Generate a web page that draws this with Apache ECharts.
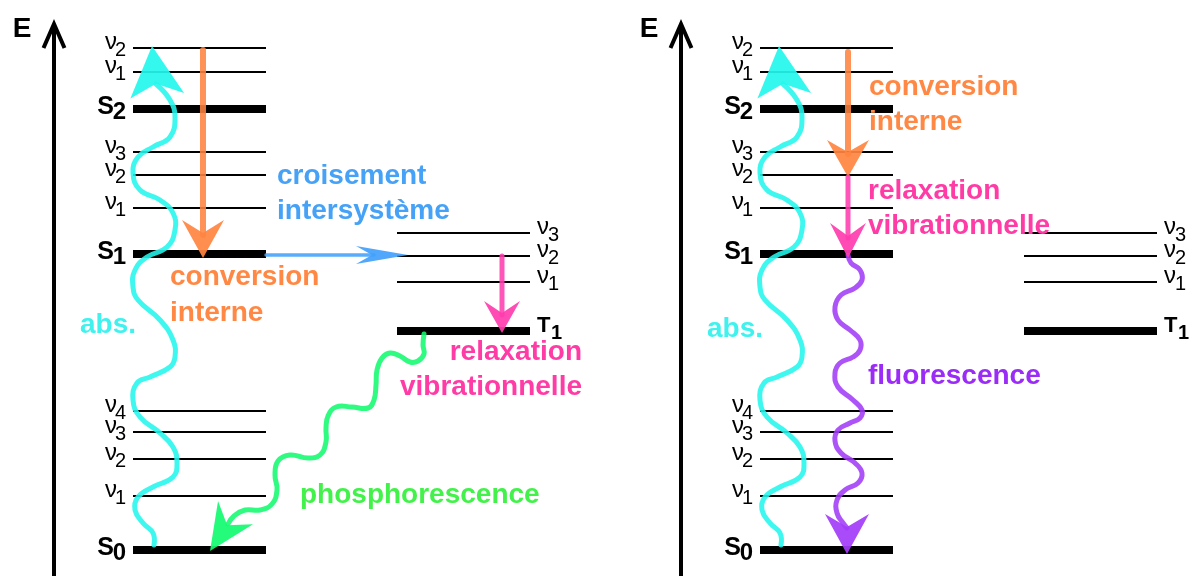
<!DOCTYPE html>
<html><head><meta charset="utf-8">
<script src="https://cdn.jsdelivr.net/npm/echarts@6.0.0/dist/echarts.min.js"></script>
<style>html,body{margin:0;padding:0;background:#fff}#c{width:1192px;height:576px}</style>
</head><body><div id="c"></div>
<script>
// ---------- data (diagram units: x to the right, energy y downward) ----------
const panelShift = [0, 627];
const singletX = [133, 266];
const tripletX = [397, 530];
const singletY = [48, 72, 109, 152, 175, 208, 254, 411, 432, 459, 496, 550];
const singletSym = ['ν','ν','S','ν','ν','ν','S','ν','ν','ν','ν','S'];
const singletSub = ['2','1','2','3','2','1','1','4','3','2','1','0'];
const tripletY = [233, 256, 282, 331];
const tripletSym = ['ν','ν','ν','T'];
const tripletSub = ['3','2','1','1'];
const energyAxisX = 54;
const energyAxisY = [576, 23];

// wavy transitions: waypoints from start to arrow base, then the tip
const absorptionPath = [[154,545],[153,533],[143,523],[135,510],[138,497],[153,487],[173,477],[177,463],[173,447],[160,433],[140,417],[133,400],[137,383],[150,377],[170,367],[175,357],[173,340],[160,320],[138,300],[133,287],[135,270],[147,257],[167,247],[175,230],[173,213],[160,200],[140,190],[133,173],[138,157],[153,147],[170,137],[175,117],[170,100],[156,84]];
const absorptionTip = [152, 46];
const phosphorescencePath = [[424,334],[423,345],[424,354],[418,361],[410,362],[400,356],[390,353],[382,358],[377,370],[376,385],[374,400],[368,408],[352,407],[336,407],[328,416],[326,428],[326,442],[320,455],[308,458],[290,455],[278,461],[275,475],[277,490],[272,504],[260,510],[245,510],[234,516],[228,524]];
const phosphorescenceTip = [210, 551];
const fluorescencePath = [[848,255],[851,263],[860,270],[862,280],[855,288],[841,295],[835,307],[838,320],[850,330],[860,340],[860,350],[853,357],[840,363],[835,373],[838,387],[853,400],[862,410],[860,418],[850,423],[838,430],[835,441],[841,453],[855,463],[862,473],[858,483],[845,490],[837,500],[837,513],[843,523],[847,528]];
const fluorescenceTip = [847, 554];

// straight transitions: [start, tip]
const internalConvLeft = [[203,50],[203,258]];
const intersystemCrossing = [[266,255],[408,255]];
const vibRelaxLeft = [[502,256],[502,333]];
const internalConvRight = [[848,52],[848,177]];
const vibRelaxRight = [[848,177],[848,258]];

// annotation texts
const annoText = ['croisement','intersystème','conversion','interne','abs.','relaxation','vibrationnelle','phosphorescence','conversion','interne','relaxation','vibrationnelle','abs.','fluorescence'];
const annoX = [277,277,170,170,80,582,582,300,869,869,868,868,707,868];
const annoBaseline = [186,221,287,323,335,362,397,505,97,132,201,236,339,386];
const annoKind = ['isc','isc','ic','ic','abs','vr','vr','ph','ic','ic','vr','vr','abs','fl'];

// ---------- styles ----------
const textColor = {isc:'#46a2f6', ic:'#ff8844', abs:'#3ff2ee', vr:'#ff3ca6', ph:'#42f24a', fl:'#9b2cf8'};
const FONT = '"Liberation Sans", Arial, sans-serif';

const arrows = [
  {path: absorptionPath, tip: absorptionTip, color:'#23f7ed', w:5, L:50, H:27, D:38, smooth:true, shift:[0,627]},
  {path: phosphorescencePath, tip: phosphorescenceTip, color:'#12fb70', w:5, L:46, H:21, D:31, smooth:true, shift:[0]},
  {path: fluorescencePath, tip: fluorescenceTip, color:'#a23cf8', w:5, L:40, H:22, D:27, smooth:true, shift:[0]},
  {path: [internalConvLeft[0]], tip: internalConvLeft[1], color:'#ff8440', w:6, L:38, H:21, D:25, shift:[0]},
  {path: [intersystemCrossing[0]], tip: intersystemCrossing[1], color:'#41a0fb', w:3.5, L:52, H:9, D:36, shift:[0]},
  {path: [vibRelaxLeft[0]], tip: vibRelaxLeft[1], color:'#ff3cae', w:5, L:32, H:18, D:20, shift:[0]},
  {path: [internalConvRight[0]], tip: internalConvRight[1], color:'#ff8440', w:6, L:37, H:21, D:25, shift:[0]},
  {path: [vibRelaxRight[0]], tip: vibRelaxRight[1], color:'#ff3cae', w:5, L:35, H:18, D:22, shift:[0]}
];
const arrowItems = [];
arrows.forEach((a, i) => a.shift.forEach(s => arrowItems.push({i, s})));

const levelItems = [];
panelShift.forEach(s => {
  singletY.forEach((y, k) => levelItems.push({x0: singletX[0]+s, x1: singletX[1]+s, y, sym: singletSym[k], sub: singletSub[k], side:'left'}));
  tripletY.forEach((y, k) => levelItems.push({x0: tripletX[0]+s, x1: tripletX[1]+s, y, sym: tripletSym[k], sub: tripletSub[k], side:'right'}));
});

const chart = echarts.init(document.getElementById('c'), null, {renderer:'canvas'});

function renderLevel(params, api) {
  const it = levelItems[params.dataIndex];
  const p0 = api.coord([it.x0, it.y]), p1 = api.coord([it.x1, it.y]);
  const thick = it.sym !== 'ν';
  const children = [{
    type:'line', shape:{x1:p0[0], y1:p0[1], x2:p1[0], y2:p1[1]},
    style:{stroke:'#000', lineWidth: thick ? 8 : 2}
  }];
  let symFont, subFont, symDy, subDy, symW;
  if (it.sym === 'ν') { symFont = '24px ' + FONT; subFont = '20px ' + FONT; symDy = -6; subDy = 2; symW = 9; }
  else if (it.sym === 'S') { symFont = 'bold 25px ' + FONT; subFont = 'bold 24px ' + FONT; symDy = -2; subDy = 3; symW = 12; }
  else { symFont = 'bold 22px ' + FONT; subFont = 'bold 20px ' + FONT; symDy = -5; subDy = 2; symW = 13; }
  if (it.side === 'left') {
    const xr = p0[0] - 7;
    children.push({type:'text', style:{text: it.sub, x: xr, y: p0[1]+subDy, font: subFont, fill:'#000', align:'right', verticalAlign:'middle'}});
    children.push({type:'text', style:{text: it.sym, x: xr - symW, y: p0[1]+symDy, font: symFont, fill:'#000', align:'right', verticalAlign:'middle'}});
  } else {
    const xl = p1[0] + 7;
    children.push({type:'text', style:{text: it.sym, x: xl, y: p1[1]+symDy, font: symFont, fill:'#000', align:'left', verticalAlign:'middle'}});
    children.push({type:'text', style:{text: it.sub, x: xl + (it.sym==='T' ? 14 : 11), y: p1[1]+subDy, font: subFont, fill:'#000', align:'left', verticalAlign:'middle'}});
  }
  return {type:'group', children};
}

function renderArrow(params, api) {
  const item = arrowItems[params.dataIndex];
  const a = arrows[item.i];
  const s = item.s;
  const tip = api.coord([a.tip[0]+s, a.tip[1]]);
  const pts = a.path.map(p => api.coord([p[0]+s, p[1]]));
  const base = pts[pts.length-1];
  let dx = tip[0]-base[0], dy = tip[1]-base[1];
  if (!a.smooth) { dx = tip[0]-pts[0][0]; dy = tip[1]-pts[0][1]; }
  const len = Math.hypot(dx, dy); dx/=len; dy/=len;
  const px = -dy, py = dx;
  const notch = [tip[0]-dx*a.D, tip[1]-dy*a.D];
  const w1 = [tip[0]-dx*a.L+px*a.H, tip[1]-dy*a.L+py*a.H];
  const w2 = [tip[0]-dx*a.L-px*a.H, tip[1]-dy*a.L-py*a.H];
  const shaft = a.smooth ? pts : [pts[0], [notch[0]+dx*2, notch[1]+dy*2]];
  return {type:'group', children:[
    {type:'polyline', shape:{points: shaft, smooth: a.smooth ? 0.45 : 0}, style:{stroke:a.color, lineWidth:a.w, fill:null, lineCap:'round', lineJoin:'round', opacity:0.88}},
    {type:'polygon', shape:{points:[tip, w1, notch, w2]}, style:{fill:a.color, opacity:0.92}}
  ]};
}

function renderAxis(params, api) {
  const s = panelShift[params.dataIndex];
  const b = api.coord([energyAxisX+s, energyAxisY[0]]);
  const t = api.coord([energyAxisX+s, energyAxisY[1]]);
  return {type:'group', children:[
    {type:'line', shape:{x1:b[0], y1:b[1], x2:t[0], y2:t[1]+2}, style:{stroke:'#000', lineWidth:4}},
    {type:'polyline', shape:{points:[[t[0]-10.5, t[1]+25],[t[0], t[1]+1],[t[0]+10.5, t[1]+25]]}, style:{stroke:'#000', lineWidth:4, fill:null, lineJoin:'miter'}},
    {type:'text', style:{text:'E', x:t[0]-32, y:t[1]+6, font:'bold 28px ' + FONT, fill:'#000', align:'center', verticalAlign:'middle'}}
  ]};
}

function renderAnno(params, api) {
  const k = params.dataIndex;
  const p = api.coord([annoX[k], annoBaseline[k]]);
  const right = annoKind[k] === 'vr' && annoX[k] < 600;
  return {type:'text', style:{text: annoText[k], x: p[0], y: p[1] - 9.7, font:'bold 28px ' + FONT, fill: textColor[annoKind[k]], align: right ? 'right' : 'left', verticalAlign:'middle'}};
}

chart.setOption({
  animation:false,
  backgroundColor:'#fff',
  grid:{left:0, right:0, top:0, bottom:0},
  xAxis:{type:'value', min:0, max:1192, show:false},
  yAxis:{type:'value', min:0, max:576, inverse:true, show:false},
  series:[
    {type:'custom', name:'axes', renderItem: renderAxis, data: panelShift.map((s,i)=>[i,0]), z:1},
    {type:'custom', name:'levels', renderItem: renderLevel, data: levelItems.map((it,i)=>[it.x0, it.y]), z:2},
    {type:'custom', name:'transitions', renderItem: renderArrow, data: arrowItems.map((it,i)=>[i,0]), z:3},
    {type:'custom', name:'annotations', renderItem: renderAnno, data: annoText.map((t,i)=>[annoX[i], annoBaseline[i]]), z:4}
  ]
});
</script></body></html>
